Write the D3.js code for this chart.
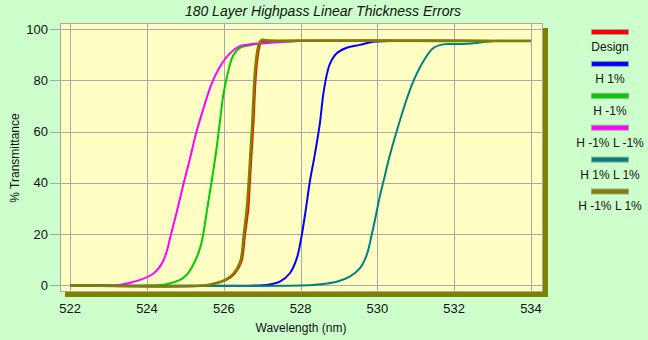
<!DOCTYPE html>
<html>
<head>
<meta charset="utf-8">
<script src="https://cdn.jsdelivr.net/npm/d3@7"></script>
<style>
html,body{margin:0;padding:0;background:#ccffcc;}
svg{display:block;font-family:"Liberation Sans",Arial,sans-serif;}
</style>
</head>
<body>
<svg id="c" width="648" height="340"></svg>
<script>
const title = "180 Layer Highpass Linear Thickness Errors";
const xTicks = [522, 524, 526, 528, 530, 532, 534];
const yTicks = [0, 20, 40, 60, 80, 100];
const seriesNames = ["Design", "H 1%", "H -1%", "H -1% L -1%", "H 1% L 1%", "H -1% L 1%"];
const seriesColors = ["#ff0000", "#0000ff", "#00cc00", "#ff00ff", "#008080", "#808000"];

const designWl = [522, 525.6, 525.81, 526.07, 526.29, 526.46, 526.55, 526.64, 526.68, 526.72, 526.77, 526.81, 526.85, 526.92, 526.98, 527.2, 528, 530, 534];
const designT  = [0, 0, 0.8, 2.1, 4.7, 9.2, 19.6, 30, 40.4, 50.5, 62.5, 75.5, 84.7, 92.5, 95, 95.3, 95.4, 95.4, 95.3];

const h1Wl = [522, 527.0, 527.2, 527.46, 527.72, 527.9, 528.03, 528.14, 528.24, 528.37, 528.5, 528.59, 528.68, 528.76, 528.94, 529.2, 529.54, 529.89, 530.3, 534];
const h1T  = [0, 0, 0.3, 1.4, 4.7, 10.5, 19.6, 30, 40.4, 51, 63, 74.5, 82, 86.3, 90.5, 92.7, 93.8, 95, 95.3, 95.3];

const hm1Wl = [522, 524.3, 524.6, 524.86, 525.03, 525.2, 525.38, 525.46, 525.57, 525.68, 525.79, 525.9, 525.99, 526.1, 526.25, 526.42, 526.8, 527.2, 528, 534];
const hm1T  = [0, 0, 0.8, 2.1, 4, 7.9, 14.4, 19.6, 30, 40.4, 51, 64, 74.5, 82.5, 89.9, 92.6, 94, 94.8, 95.3, 95.3];

const hm1lm1Wl = [522, 523.2, 523.5, 523.82, 524.16, 524.3, 524.42, 524.52, 524.62, 524.79, 524.95, 525.12, 525.29, 525.46, 525.68, 525.9, 526.16, 526.42, 526.77, 527.2, 528, 534];
const hm1lm1T  = [0, 0, 0.8, 2.1, 4.5, 6.6, 9.4, 13.5, 19.6, 29.5, 39.5, 49.5, 60, 68.5, 78.5, 85.3, 90.5, 93.3, 94.2, 94.6, 95.3, 95.3];

const h1l1Wl = [522, 528.2, 528.5, 528.94, 529.28, 529.54, 529.72, 529.85, 529.96, 530.06, 530.19, 530.32, 530.5, 530.76, 530.93, 531.19, 531.45, 531.71, 532.0, 532.32, 532.84, 533.2, 534];
const h1l1T  = [0, 0, 0.4, 1.4, 3.4, 6.6, 11.8, 19.6, 27.2, 34.5, 42.5, 50.5, 60, 72.5, 79.4, 87.2, 92.5, 94, 94.1, 94.2, 95, 95.4, 95.4];

const hm1l1Wl = [522, 525.55, 525.78, 526.04, 526.26, 526.43, 526.52, 526.6, 526.65, 526.69, 526.74, 526.78, 526.82, 526.88, 526.94, 527.0, 527.1, 527.4, 528, 530, 534];
const hm1l1T  = [0, 0, 0.8, 2.1, 4.7, 9.2, 19.6, 30, 40.4, 50.5, 62.5, 75.5, 84.7, 92, 95, 95.8, 95.6, 95.4, 95.5, 95.4, 95.3];

const seriesWl = [designWl, h1Wl, hm1Wl, hm1lm1Wl, h1l1Wl, hm1l1Wl];
const seriesT = [designT, h1T, hm1T, hm1lm1T, h1l1T, hm1l1T];

const svg = d3.select("#c");
const plot = {l: 60, t: 23, r: 543, b: 292};
const x = d3.scaleLinear().domain([522, 534]).range([70.2, 531]);
const y = d3.scaleLinear().domain([0, 100]).range([285.3, 29]);

// shadow
svg.append("rect").attr("x", plot.l + 5).attr("y", plot.t + 5)
  .attr("width", plot.r - plot.l).attr("height", plot.b - plot.t).attr("fill", "#808000");
// plot background
svg.append("rect").attr("x", plot.l + 0.5).attr("y", plot.t + 0.5)
  .attr("width", plot.r - plot.l - 1).attr("height", plot.b - plot.t - 1)
  .attr("fill", "#ffffc4").attr("stroke", "#a8a8a8").attr("stroke-width", 1);

const grid = svg.append("g").attr("stroke", "#a8a8a8").attr("stroke-width", 1).attr("shape-rendering", "crispEdges");
grid.selectAll("line.v").data(xTicks).join("line")
  .attr("x1", d => Math.round(x(d)) + 0.5).attr("x2", d => Math.round(x(d)) + 0.5)
  .attr("y1", plot.t).attr("y2", plot.b);
grid.selectAll("line.h").data(yTicks).join("line")
  .attr("x1", plot.l - 10).attr("x2", plot.r)
  .attr("y1", d => Math.round(y(d)) + 0.5).attr("y2", d => Math.round(y(d)) + 0.5);

svg.append("g").selectAll("text").data(yTicks).join("text")
  .attr("x", 48).attr("y", d => y(d)).attr("dy", "0.36em")
  .attr("text-anchor", "end").attr("font-size", 13).attr("fill", "#111")
  .text(d => d);
svg.append("g").selectAll("text").data(xTicks).join("text")
  .attr("x", d => x(d)).attr("y", 308).attr("dy", "0.36em")
  .attr("text-anchor", "middle").attr("font-size", 13).attr("fill", "#111")
  .text(d => d);

svg.append("text").attr("x", 301).attr("y", 328).attr("dy", "0.36em")
  .attr("text-anchor", "middle").attr("font-size", 12).attr("fill", "#111")
  .text("Wavelength (nm)");
svg.append("text").attr("transform", "translate(15,158) rotate(-90)").attr("dy", "0.36em")
  .attr("text-anchor", "middle").attr("font-size", 12).attr("fill", "#111")
  .text("% Transmittance");
svg.append("text").attr("x", 323).attr("y", 11).attr("dy", "0.36em")
  .attr("text-anchor", "middle").attr("font-size", 14).attr("font-style", "italic").attr("fill", "#111")
  .text(title);

// lines
const line = d3.line().x(d => x(d[0])).y(d => y(d[1])).curve(d3.curveCatmullRom.alpha(0.5));
const lg = svg.append("g").attr("fill", "none");
seriesNames.forEach((name, i) => {
  const pts = seriesWl[i].map((w, j) => [w, seriesT[i][j]]);
  lg.append("path").attr("d", line(pts))
    .attr("stroke", seriesColors[i])
    .attr("stroke-width", i === 5 ? 2.6 : 2)
    .attr("stroke-linejoin", "round");
});

// legend
const leg = svg.append("g");
seriesNames.forEach((name, i) => {
  const top = 29 + i * 31.9;
  leg.append("rect").attr("x", 591.5).attr("y", top + 0.5).attr("width", 37).attr("height", 5)
    .attr("fill", seriesColors[i]).attr("stroke", "#a0a0a0").attr("stroke-width", 1);
  leg.append("text").attr("x", 610).attr("y", top + 17.6).attr("dy", "0.36em")
    .attr("text-anchor", "middle").attr("font-size", 12).attr("fill", "#111").text(name);
});
</script>
</body>
</html>
